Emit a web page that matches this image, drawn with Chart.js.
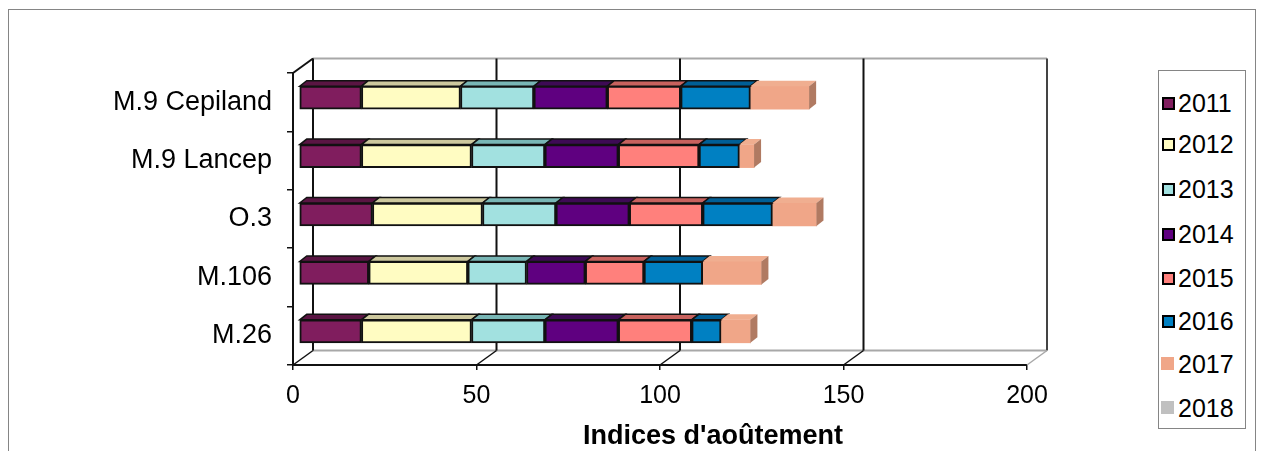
<!DOCTYPE html>
<html>
<head>
<meta charset="utf-8">
<script src="https://cdn.jsdelivr.net/npm/chart.js@4/dist/chart.umd.min.js"></script>
<style>
  body { margin: 0; background: #fff; overflow: hidden; font-family: "Liberation Sans", Arial, sans-serif; }
  #wrap { position: relative; width: 1262px; height: 451px; }
  #frame { position: absolute; left: 8px; top: 9px; width: 1246px; height: 520px; border: 1px solid #858585; }
  canvas { position: absolute; left: 0; top: 0; }
  #legend { position: absolute; left: 1158px; top: 70px; width: 86px; height: 357px; border: 1px solid #858585; background: #fff; }
  .item { position: absolute; left: 0; height: 30px; line-height: 30px; font-size: 25px; color: #000; }
  .item span.box { position: absolute; left: 3px; top: 9px; width: 9px; height: 9px; border: 2px solid #000; }
  .item span.box.flat { left: 2px; top: 8px; width: 13px; height: 13px; border: none; }
  .item span.txt { position: absolute; left: 19px; top: 0; }
</style>
</head>
<body>
<div id="wrap">
  <div id="frame"></div>
  <canvas id="chart" width="1262" height="451"></canvas>
  <div id="legend"></div>
</div>
<script>
const categories = ['M.9 Cepiland', 'M.9 Lancep', 'O.3', 'M.106', 'M.26'];
const years = ['2011', '2012', '2013', '2014', '2015', '2016', '2017', '2018'];

const v2011 = [17, 17, 20, 19, 17];
const v2012 = [27, 30, 30, 27, 30];
const v2013 = [20, 20, 20, 16, 20];
const v2014 = [20, 20, 20, 16, 20];
const v2015 = [20, 22, 20, 16, 20];
const v2016 = [19, 11, 19, 16, 8];
const v2017 = [16, 4, 12, 16, 8];
const v2018 = [0, 0, 0, 0, 0];

const xTicks = [0, 50, 100, 150, 200];

const series = [v2011, v2012, v2013, v2014, v2015, v2016, v2017, v2018];
const fills = ['#801d5e', '#fffcc2', '#a2e1e0', '#5f0080', '#ff807c', '#0080c2', '#f0a688', '#c0c0c0'];
const tops = ['#5a1543', '#cdc89e', '#78b6b5', '#3e0a55', '#c8625e', '#005f96', '#f0ae90', '#a0a0a0'];
const outlined = [true, true, true, true, true, true, false, false];

// depth of the back wall and of each bar
const WALL = { dx: 20, dy: -14.5 };
const BAR_SHIFT = { dx: 6, dy: -4.5 };
const BAR_DEPTH = { dx: 7, dy: -5.5 };

function poly(ctx, pts, fill, stroke, lw) {
  ctx.beginPath();
  ctx.moveTo(pts[0][0], pts[0][1]);
  for (let i = 1; i < pts.length; i++) ctx.lineTo(pts[i][0], pts[i][1]);
  ctx.closePath();
  if (fill) { ctx.fillStyle = fill; ctx.fill(); }
  if (stroke) { ctx.strokeStyle = stroke; ctx.lineWidth = lw || 1; ctx.stroke(); }
}

function line(ctx, x1, y1, x2, y2, color, lw) {
  ctx.beginPath();
  ctx.moveTo(x1, y1);
  ctx.lineTo(x2, y2);
  ctx.strokeStyle = color;
  ctx.lineWidth = lw;
  ctx.stroke();
}

const box3d = {
  id: 'box3d',
  beforeDatasetsDraw(chart) {
    const { ctx, chartArea: a, scales: { x } } = chart;
    const L = a.left, R = a.right, T = a.top, B = a.bottom;
    const dx = WALL.dx, dy = WALL.dy;
    ctx.save();
    // back wall
    line(ctx, L + dx, T + dy, R + dx, T + dy, '#a8a8a8', 2);
    line(ctx, L + dx, B + dy, R + dx, B + dy, '#a8a8a8', 2);
    xTicks.forEach(v => {
      const px = x.getPixelForValue(v) + dx;
      line(ctx, px, T + dy, px, B + dy, v === 200 ? '#444' : '#111', 2);
    });
    // left wall edges
    line(ctx, L, T, L + dx, T + dy, '#111', 2);
    // floor
    xTicks.forEach(v => {
      const px = x.getPixelForValue(v);
      line(ctx, px, B, px + dx, B + dy, v === 200 ? '#a8a8a8' : '#111', 1.5);
    });
    ctx.restore();

    ctx.save();
    ctx.translate(BAR_SHIFT.dx, BAR_SHIFT.dy);
  },
  afterDatasetsDraw(chart) {
    const { ctx } = chart;
    const n = categories.length;
    for (let i = 0; i < n; i++) {
      let last = -1;
      series.forEach((s, k) => { if (s[i] > 0) last = k; });
      series.forEach((s, k) => {
        if (!(s[i] > 0)) return;
        const el = chart.getDatasetMeta(k).data[i];
        const p = el.getProps(['x', 'y', 'base', 'height'], true);
        const top = p.y - p.height / 2, bot = p.y + p.height / 2;
        const x0 = Math.min(p.base, p.x), x1 = Math.max(p.base, p.x);
        const ddx = BAR_DEPTH.dx, ddy = BAR_DEPTH.dy;
        const edge = outlined[k] ? '#111' : null;
        poly(ctx, [[x0, top], [x1, top], [x1 + ddx, top + ddy], [x0 + ddx, top + ddy]], tops[k], edge, 1.5);
        if (k === last) {
          const side = k === 6 ? '#b07a62' : tops[k];
          poly(ctx, [[x1, top], [x1 + ddx, top + ddy], [x1 + ddx, bot + ddy], [x1, bot]], side, edge, 1.5);
        }
      });
    }
    ctx.restore();
  },
  afterDraw(chart) {
    const { ctx } = chart;
    ctx.save();
    ctx.fillStyle = '#000';
    ctx.font = 'bold 27px "Liberation Sans", Arial, sans-serif';
    ctx.textAlign = 'center';
    ctx.textBaseline = 'middle';
    ctx.fillText("Indices d'aoûtement", 713, 437);
    ctx.restore();
  }
};

const datasets = years.map((yr, k) => ({
  label: yr,
  data: series[k],
  backgroundColor: fills[k],
  borderColor: '#111',
  borderWidth: outlined[k] ? 2 : 0,
  borderSkipped: false,
  barThickness: 23,
  clip: false
}));

new Chart(document.getElementById('chart'), {
  type: 'bar',
  data: { labels: categories, datasets: datasets },
  options: {
    indexAxis: 'y',
    responsive: false,
    animation: false,
    devicePixelRatio: 1,
    layout: { padding: { top: 73, right: 235, left: 0, bottom: 0 } },
    plugins: { legend: { display: false }, tooltip: { enabled: false }, title: { display: false } },
    scales: {
      x: {
        stacked: true,
        min: 0,
        max: 200,
        afterFit: s => { s.height = 86; },
        afterBuildTicks: s => { s.ticks = xTicks.map(v => ({ value: v })); },
        grid: { drawOnChartArea: false, drawTicks: true, tickLength: 5, color: '#111', lineWidth: 1.5 },
        border: { display: true, color: '#111', width: 2 },
        ticks: { color: '#000', font: { family: '"Liberation Sans", Arial, sans-serif', size: 25 }, padding: 11, maxRotation: 0 }
      },
      y: {
        stacked: true,
        afterFit: s => { s.width = 293; },
        grid: { drawOnChartArea: false, drawTicks: true, tickLength: 6, color: '#111', lineWidth: 1.5, offset: true },
        border: { display: true, color: '#111', width: 2 },
        ticks: { color: '#000', font: { family: '"Liberation Sans", Arial, sans-serif', size: 27 }, padding: 15 }
      }
    }
  },
  plugins: [box3d]
});

// legend box
const legend = document.getElementById('legend');
const rowCenters = [32, 73, 118, 163, 207, 250, 293, 337];
years.forEach((yr, k) => {
  const it = document.createElement('div');
  it.className = 'item';
  it.style.top = (rowCenters[k] - 15) + 'px';
  const b = document.createElement('span');
  b.className = outlined[k] ? 'box' : 'box flat';
  b.style.background = fills[k];
  const t = document.createElement('span');
  t.className = 'txt';
  t.textContent = yr;
  it.appendChild(b);
  it.appendChild(t);
  legend.appendChild(it);
});
</script>
</body>
</html>
